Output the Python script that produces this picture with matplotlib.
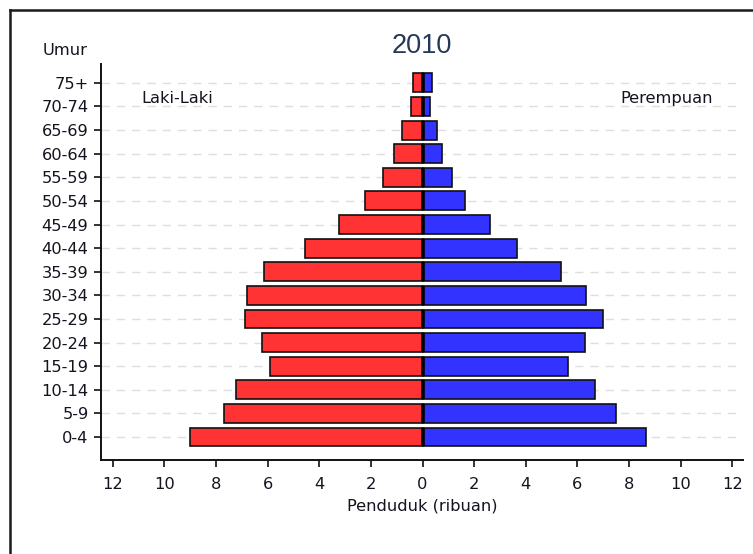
import matplotlib
matplotlib.use("Agg")
import matplotlib.pyplot as plt
from matplotlib.lines import Line2D
import numpy as np

# ---- data ----
age_groups = ["0-4", "5-9", "10-14", "15-19", "20-24", "25-29", "30-34", "35-39",
              "40-44", "45-49", "50-54", "55-59", "60-64", "65-69", "70-74", "75+"]
male = [9.01, 7.68, 7.23, 5.90, 6.22, 6.88, 6.81, 6.16,
        4.57, 3.22, 2.23, 1.52, 1.10, 0.78, 0.45, 0.38]
female = [8.66, 7.49, 6.69, 5.63, 6.30, 7.01, 6.35, 5.37,
          3.67, 2.62, 1.65, 1.16, 0.77, 0.57, 0.30, 0.37]
xticks = [-12, -10, -8, -6, -4, -2, 0, 2, 4, 6, 8, 10, 12]
xtick_labels = ["12", "10", "8", "6", "4", "2", "0", "2", "4", "6", "8", "10", "12"]
title = "2010"
xlabel = "Penduduk (ribuan)"
ylabel = "Umur"
label_left = "Laki-Laki"
label_right = "Perempuan"

plt.rcParams['font.family'] = ['DejaVu Sans']
txt_color = '#141420'
fs = 11.7

W, H = 753, 554
fig = plt.figure(figsize=(W / 100, H / 100), dpi=100)
fig.patch.set_facecolor('white')

left, right, bottom, top = 101, 743, 460, 64
ax = fig.add_axes([left / W, 1 - bottom / H, (right - left) / W, (bottom - top) / H])

y = np.arange(len(age_groups))
ax.set_axisbelow(True)
ax.barh(y, [-m for m in male], height=0.8, color='#ff3333', edgecolor='#111111', linewidth=1.2, zorder=2)
ax.barh(y, female, height=0.8, color='#3333ff', edgecolor='#111111', linewidth=1.2, zorder=2)
ax.vlines(np.zeros(len(y)), y - 0.4, y + 0.4, colors='#000000', linewidth=2.6, zorder=3)

ax.set_xlim(-12.46, 12.42)
ax.set_ylim(-0.975, 15.8)

ax.set_yticks(y)
ax.set_yticklabels(age_groups)
ax.set_xticks(xticks)
ax.set_xticklabels(xtick_labels)

for s in ['top', 'right']:
    ax.spines[s].set_visible(False)
for s in ['left', 'bottom']:
    ax.spines[s].set_linewidth(1.4)
    ax.spines[s].set_color('#111111')

ax.tick_params(axis='both', direction='out', length=5, width=1.2, color='#111111',
               labelsize=fs, labelcolor=txt_color)
ax.tick_params(axis='x', pad=7)
ax.tick_params(axis='y', pad=4)

ax.yaxis.grid(True, color='#dedede', linestyle=(0, (6, 5)), linewidth=1.0)
ax.xaxis.grid(False)

ax.set_xlabel(xlabel, fontsize=fs, color=txt_color, labelpad=5)

ax.text(0.0634, 0.9008, label_left, transform=ax.transAxes, ha='left', va='baseline',
        fontsize=fs, color=txt_color)
ax.text(0.9537, 0.9008, label_right, transform=ax.transAxes, ha='right', va='baseline',
        fontsize=fs, color=txt_color)

fig.text(43 / W, 1 - 55 / H, ylabel, ha='left', va='baseline', fontsize=fs, color=txt_color)
fig.text(422 / W, 1 - 53.3 / H, title, ha='center', va='baseline', fontsize=19.5,
         color='#243858', family=['Liberation Sans', 'DejaVu Sans'])

# outer frame
fig.add_artist(Line2D([9.5 / W, 1], [1 - 9.5 / H, 1 - 9.5 / H], transform=fig.transFigure,
                      color='#1a1a1a', linewidth=1.8))
fig.add_artist(Line2D([9.5 / W, 9.5 / W], [0, 1 - 9.5 / H], transform=fig.transFigure,
                      color='#1a1a1a', linewidth=1.8))

fig.savefig("out.png", dpi=100)
